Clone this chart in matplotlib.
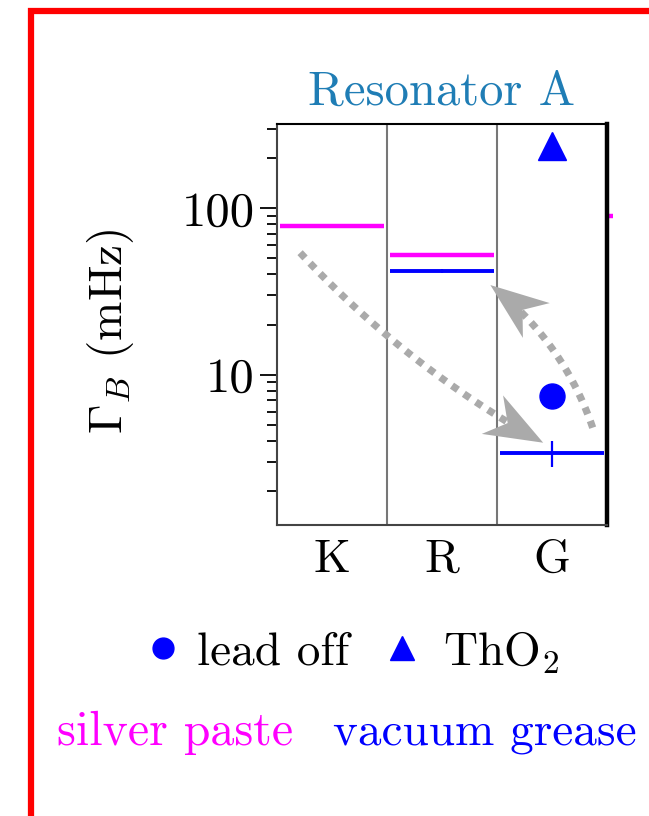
import numpy as np
import matplotlib
matplotlib.use("Agg")
import matplotlib.pyplot as plt
from matplotlib.lines import Line2D
from matplotlib.patches import Rectangle, Polygon

plt.rcParams['font.family'] = 'serif'
plt.rcParams['font.serif'] = ['cmr10', 'DejaVu Serif']
plt.rcParams['mathtext.fontset'] = 'cm'
plt.rcParams['axes.formatter.use_mathtext'] = True

# Resonator A: loss rate per mounting (mHz)
mounts = ['K', 'R', 'G']
silver_paste = [78, 52.5, np.nan]
vacuum_grease = [np.nan, 42, 3.4]
grease_err = [np.nan, 1.0, 0.6]
lead_off = 7.4        # G, lead removed
tho2 = 235            # G, ThO2
next_panel_silver = 90

MAGENTA = '#ff00ff'
BLUE = '#0000ff'
GREY = '#aaaaaa'

fig = plt.figure(figsize=(6.49, 8.16), dpi=100)
ax = fig.add_axes([277 / 649, 1 - 525 / 816, 330 / 649, 401 / 816])

x = np.arange(len(mounts))
half = 0.47
ax.hlines(silver_paste, x - half, x + half, color=MAGENTA, lw=3.2, zorder=3)
ax.hlines(vacuum_grease, x - half, x + half, color=BLUE, lw=2.8, zorder=3)
ge = np.array(grease_err)
vg = np.array(vacuum_grease)
ax.vlines(x, vg - ge, vg + ge, color=BLUE, lw=1.6, zorder=3)
ax.plot(2, lead_off, 'o', color=BLUE, ms=18, zorder=4)
ax.plot(2, tho2, '^', color=BLUE, ms=20, zorder=4)
# stub of the neighbouring panel's silver paste level
ax.hlines(next_panel_silver, 2.515, 2.55, color=MAGENTA, lw=3.2, clip_on=False)

for xd in [0.5, 1.5]:
    ax.axvline(xd, color='#777777', lw=1.5, zorder=1)

ax.set_yscale('log')
ax.set_ylim(1.25, 320)
ax.set_xlim(-0.5, 2.5)
ax.set_xticks(x)
ax.set_xticklabels(mounts)
ax.set_yticks([10, 100])
ax.set_yticklabels(['10', '100'])
ax.tick_params(axis='x', length=0, labelsize=34, pad=10)
ax.tick_params(axis='y', which='major', direction='out', length=12, width=1.3,
               labelsize=35, pad=4)
ax.tick_params(axis='y', which='minor', direction='out', length=7, width=1.3)
for s in ['left', 'bottom', 'top']:
    ax.spines[s].set_linewidth(1.5)
    ax.spines[s].set_color('#444444')
ax.spines['top'].set_color('black')
ax.spines['right'].set_linewidth(3.2)
ax.spines['right'].set_color('black')

ax.set_title('Resonator A', fontsize=35, color='#1f7db5', pad=14)
fig.text(110 / 649, 1 - 331 / 816, r'$\Gamma_B$ (mHz)', rotation=90,
         fontsize=34, ha='center', va='center')


def curved_arrow(tail, tip, rad, head_len=58, head_w=22, notch=0.3):
    """Dotted quadratic curve with a stealth head, built in pixel space."""
    p0 = ax.transData.transform(tail)
    p2 = ax.transData.transform(tip)
    d = p2 - p0
    ctrl = (p0 + p2) / 2 + rad * np.array([d[1], -d[0]])
    u = (p2 - ctrl) / np.linalg.norm(p2 - ctrl)
    n = np.array([-u[1], u[0]])
    back = p2 - u * head_len
    head = np.array([p2, back + n * head_w, p2 - u * head_len * (1 - notch),
                     back - n * head_w])
    t = np.linspace(0, 1, 80)[:, None]
    curve = (1 - t) ** 2 * p0 + 2 * (1 - t) * t * ctrl + t ** 2 * p2
    keep = np.linalg.norm(curve - p2, axis=1) > head_len * (1 - notch) - 4
    inv = ax.transData.inverted()
    cd = inv.transform(curve[keep])
    ax.plot(cd[:, 0], cd[:, 1], color=GREY, lw=5.2, linestyle=(0, (1, 1)),
            dash_capstyle='butt', zorder=2)
    ax.add_patch(Polygon(inv.transform(head), closed=True, fc=GREY, ec='none',
                         zorder=2))


curved_arrow((-0.29, 54), (1.92, 3.9), 0.08)
curved_arrow((2.37, 4.8), (1.44, 34.5), 0.15)

# legend rows
fig.add_artist(Line2D([163 / 649], [1 - 648 / 816], marker='o', color=BLUE,
                      ms=15, transform=fig.transFigure))
fig.text(197 / 649, 1 - 653 / 816, 'lead off', fontsize=34, va='center')
fig.add_artist(Line2D([402 / 649], [1 - 648 / 816], marker='^', color=BLUE,
                      ms=17, transform=fig.transFigure))
fig.text(443 / 649, 1 - 653 / 816, r'ThO$_2$', fontsize=34, va='center')
fig.text(57 / 649, 1 - 733 / 816, 'silver paste', fontsize=34.5, color=MAGENTA,
         va='center')
fig.text(333 / 649, 1 - 733 / 816, 'vacuum grease', fontsize=34, color=BLUE,
         va='center')

# red frame around the panel
fig.add_artist(Rectangle((31 / 649, -0.1), 1.2, 1 - 11 / 816 + 0.1,
                         transform=fig.transFigure, fill=False,
                         edgecolor='#ff0000', lw=4.5))

fig.savefig('out.png', dpi=100)
